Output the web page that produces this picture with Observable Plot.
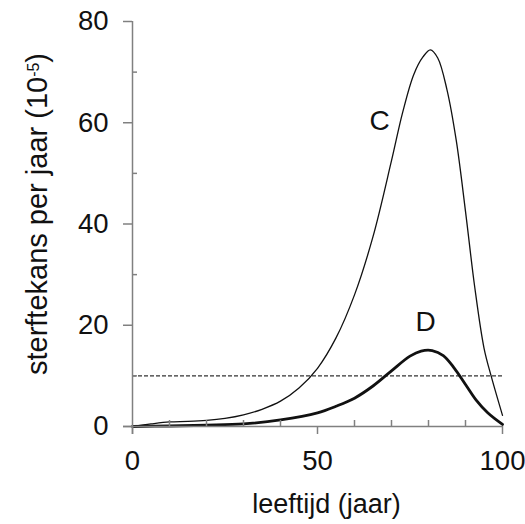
<!DOCTYPE html>
<html>
<head>
<meta charset="utf-8">
<script src="https://cdn.jsdelivr.net/npm/d3@7"></script>
<script src="https://cdn.jsdelivr.net/npm/@observablehq/plot@0.6"></script>
<style>
  html, body { margin: 0; padding: 0; background: #fff; overflow: hidden; }
  #chart svg { display: block; font-family: "Liberation Sans", Arial, sans-serif; }
</style>
</head>
<body>
<div id="chart"></div>
<script>
// Curve C (thin line)
const agesC = [0, 5, 10, 15, 20, 25, 30, 35, 40, 45, 50, 55, 60, 65, 70, 73, 76, 78.5, 80.5, 82.5, 85, 87.5, 90, 92.5, 95, 97, 100];
const rateC = [0, 0.5, 0.9, 1.0, 1.2, 1.6, 2.3, 3.4, 5.0, 7.6, 11.5, 17.5, 26, 37.5, 52.5, 62, 69.5, 73, 74.4, 72.8, 66.5, 56.5, 42.5, 27.5, 15.5, 9.8, 2.2];
// Curve D (thick line)
const agesD = [0, 10, 20, 30, 40, 50, 55, 60, 65, 70, 75, 78, 81, 84, 87, 90, 93, 96, 100];
const rateD = [0, 0.1, 0.25, 0.5, 1.3, 2.7, 4.0, 5.6, 8.0, 11.0, 13.9, 14.9, 15, 14, 11.5, 8.3, 5.1, 2.7, 0.4];
// Reference level
const threshold = [10];
// Axis ticks
const xMajor = [0, 50, 100];
const xMinor = [10, 20, 30, 40, 60, 70, 80, 90];
const yMajor = [0, 20, 40, 60, 80];
const yMinor = [10, 30, 50, 70];
// Texts
const xLabel = "leeftijd (jaar)";
const yLabel = "sterftekans per jaar (10-5)";
const curveLabels = [{name: "C", age: 66.8, rate: 60.3}, {name: "D", age: 79.2, rate: 20.6}];

const dataC = agesC.map((a, i) => ({age: a, rate: rateC[i]}));
const dataD = agesD.map((a, i) => ({age: a, rate: rateD[i]}));

const axisGray = "#808080";
const fs = 27.5;

const chart = Plot.plot({
  width: 525,
  height: 524,
  marginLeft: 132,
  marginRight: 23,
  marginTop: 21,
  marginBottom: 98,
  style: {fontFamily: "'Liberation Sans', Arial, sans-serif", background: "#fff"},
  x: {domain: [0, 100]},
  y: {domain: [0, 80]},
  marks: [
    Plot.ruleY(threshold, {stroke: "#333", strokeWidth: 1.3, strokeDasharray: "4,2"}),
    Plot.line(dataC, {x: "age", y: "rate", curve: "catmull-rom", stroke: "#111", strokeWidth: 1.3}),
    Plot.line(dataD, {x: "age", y: "rate", curve: "catmull-rom", stroke: "#111", strokeWidth: 2.8}),
    // axis lines
    Plot.ruleY([0], {stroke: axisGray, strokeWidth: 1.5, insetLeft: -9}),
    Plot.ruleX([0], {stroke: axisGray, strokeWidth: 1.5, insetBottom: -8}),
    // major ticks + labels
    Plot.axisX({ticks: xMajor, tickSize: 8, tickPadding: 16, fontSize: fs, stroke: axisGray, strokeWidth: 1.5, fill: "#111", label: null}),
    Plot.axisY({ticks: yMajor, tickSize: 9, tickPadding: 15, fontSize: fs, stroke: axisGray, strokeWidth: 1.5, fill: "#111", label: null}),
    // minor ticks (inward)
    Plot.axisX({ticks: xMinor, tickSize: 6, dy: -6, tickFormat: () => "", stroke: axisGray, strokeWidth: 1.5, label: null}),
    Plot.axisY({ticks: yMinor, tickSize: 5, dx: 5, tickFormat: () => "", stroke: axisGray, strokeWidth: 1.5, label: null}),
    // curve labels
    Plot.text(curveLabels, {x: "age", y: "rate", text: "name", fontSize: 28, fill: "#111", lineAnchor: "middle"}),
    // axis titles
    Plot.text([xLabel], {frameAnchor: "bottom", textAnchor: "middle", dx: 9, dy: 78, fontSize: 27, fill: "#111", lineAnchor: "middle"}),
    Plot.text([yLabel], {frameAnchor: "left", textAnchor: "middle", rotate: -90, dx: -95, dy: -10, fontSize: 29, fill: "#111", lineAnchor: "middle"})
  ]
});

document.getElementById("chart").appendChild(chart);

// Render the exponent of the y label as a superscript
const yText = [...chart.querySelectorAll("text")].find(e => e.textContent === yLabel);
if (yText) {
  const sel = d3.select(yText);
  sel.text(null);
  sel.append("tspan").text("sterftekans per jaar (10");
  sel.append("tspan").attr("font-size", 16).attr("baseline-shift", "super").text("-5");
  sel.append("tspan").text(")");
}
</script>
</body>
</html>
